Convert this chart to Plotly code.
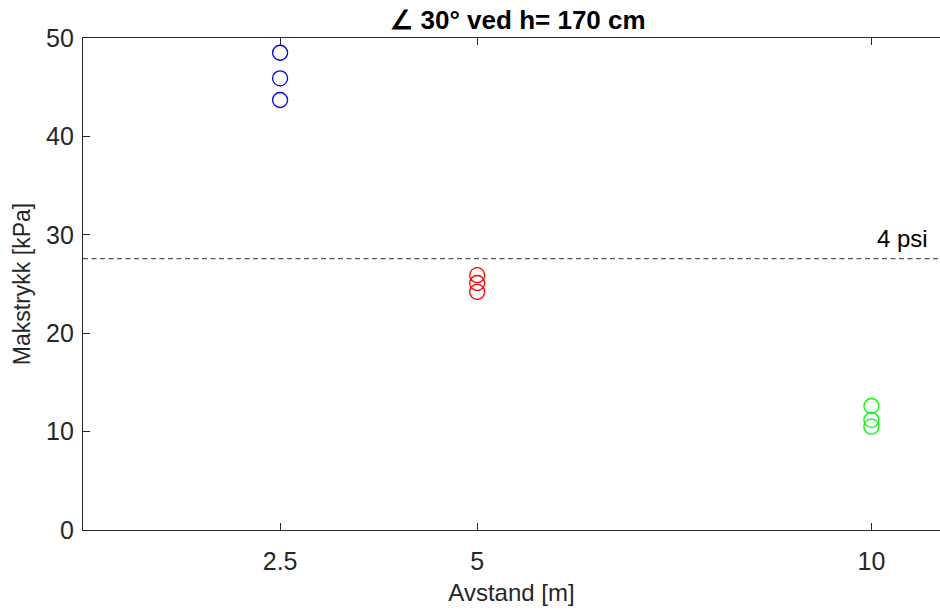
import plotly.graph_objects as go

# Peak pressure measurements at each distance
distance_groups = [2.5, 5, 10]
pressure_25 = [48.5, 45.9, 43.7]
pressure_5 = [25.9, 25.1, 24.2]
pressure_10 = [12.6, 11.2, 10.5]
group_colors = ["#0000ff", "#ff0000", "#00ff00"]

x_ticks = [2.5, 5, 10]
x_tick_labels = ["2.5", "5", "10"]
y_ticks = [0, 10, 20, 30, 40, 50]

psi4_kpa = 27.58  # 4 psi threshold in kPa

FONT = "Liberation Sans, Arial"
TXT = "#262626"

fig = go.Figure()
for xv, ys, col in zip(distance_groups, [pressure_25, pressure_5, pressure_10], group_colors):
    fig.add_trace(go.Scatter(
        x=[xv] * len(ys), y=ys, mode="markers",
        marker=dict(symbol="circle-open", size=15, color=col, line=dict(width=1.3, color=col)),
        showlegend=False,
    ))

fig.add_shape(type="line", xref="paper", yref="y", x0=0, x1=1, y0=psi4_kpa, y1=psi4_kpa,
              line=dict(color="#555555", width=1.2, dash="5px,3.5px"))
fig.add_annotation(xref="paper", yref="y", x=0.988, y=psi4_kpa, text="4 psi",
                   showarrow=False, xanchor="right", yanchor="bottom", yshift=5,
                   font=dict(family=FONT, size=24, color="black"))

axis_common = dict(
    showline=True, linecolor=TXT, linewidth=1.2,
    ticks="inside", ticklen=7, tickcolor=TXT, showgrid=False, zeroline=False,
    tickfont=dict(family=FONT, size=25, color=TXT),
)

fig.update_xaxes(range=[0, 10.87], tickvals=x_ticks, ticktext=x_tick_labels, mirror="ticks",
                 ticklabelstandoff=9,
                 title=dict(text="Avstand [m]", font=dict(family=FONT, size=24, color=TXT), standoff=10),
                 **axis_common)
fig.update_yaxes(range=[0, 50], tickvals=y_ticks, mirror=False, ticklabelstandoff=3,
                 title=dict(text="Makstrykk [kPa]", font=dict(family=FONT, size=23, color=TXT), standoff=9),
                 **axis_common)

fig.update_layout(
    width=940, height=610,
    margin=dict(l=83, r=0, t=38, b=80),
    plot_bgcolor="white", paper_bgcolor="white",
    title=dict(text="<b>∠ 30° ved h= 170 cm</b>", x=518 / 940, xanchor="center",
               y=1 - 20 / 610, yanchor="middle",
               font=dict(family=FONT, size=26, color="black")),
)

fig.write_html("out.html")
